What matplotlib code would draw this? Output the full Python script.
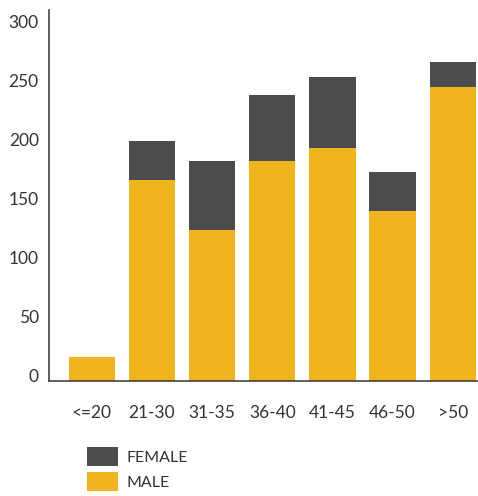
import numpy as np
import matplotlib.pyplot as plt
import matplotlib.transforms as mtransforms

age_groups = ["<=20", "21-30", "31-35", "36-40", "41-45", "46-50", ">50"]
male = [20, 170, 128, 186, 197, 144, 249]
female = [0, 33, 58, 56, 60, 33, 21]
y_ticks = [0, 50, 100, 150, 200, 250, 300]

yellow = "#F0B41E"
grey = "#4B4C4E"
text_col = "#333333"

plt.rcParams["font.family"] = ["Lato", "DejaVu Sans"]

fig = plt.figure(figsize=(4.78, 4.96), dpi=100)
W, H = 478, 496
ax = fig.add_axes([48.5 / W, 1 - 381 / H, (W - 48.5) / W, (381 - 10) / H])

x = np.arange(len(age_groups))
ax.bar(x, male, width=0.77, color=yellow, label="MALE")
ax.bar(x, female, width=0.77, bottom=male, color=grey, label="FEMALE")

ax.set_xlim(-0.72, 6.42)
ax.set_ylim(0, 314)
ax.set_yticks(y_ticks)
ax.set_xticks(x)
ax.set_xticklabels(age_groups)

for side in ["top", "right"]:
    ax.spines[side].set_visible(False)
for side in ["left", "bottom"]:
    ax.spines[side].set_color(text_col)
    ax.spines[side].set_linewidth(1.1)

ax.tick_params(axis="y", length=0, pad=7, labelsize=12.5, labelcolor=text_col)
ax.tick_params(axis="x", length=0, pad=17, labelsize=12.5, labelcolor=text_col)

# y labels sit a little above their tick values
shift = mtransforms.ScaledTranslation(0, 5 / 100, fig.dpi_scale_trans)
for lbl in ax.get_yticklabels():
    lbl.set_transform(lbl.get_transform() + shift)

handles, labels = ax.get_legend_handles_labels()
fig.legend(handles[::-1], labels[::-1], loc="upper left",
           bbox_to_anchor=(76 / W, 1 - 436 / H), frameon=False,
           fontsize=11.5, labelcolor=text_col, handlelength=1.95,
           handleheight=1.4, labelspacing=0.42, handletextpad=0.5,
           borderpad=0.2)

fig.savefig("out.png", dpi=100)
